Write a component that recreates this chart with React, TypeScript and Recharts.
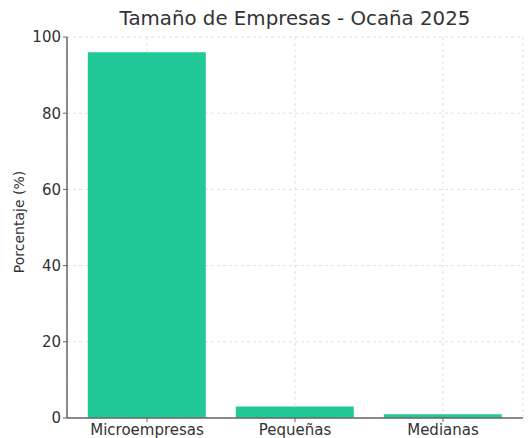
import React from 'react';
import { BarChart, Bar, XAxis, YAxis, CartesianGrid } from 'recharts';

const categories = ['Microempresas', 'Pequeñas', 'Medianas'];
const percentages = [96, 3, 1];
const yTicks = [0, 20, 40, 60, 80, 100];

const data = categories.map((name, i) => ({ name, value: percentages[i] }));

const FONT = '"DejaVu Sans", sans-serif';
const BAR_COLOR = '#20c997';

const YLabel = () => (
  <text
    x={19}
    y={222}
    transform="rotate(-90, 19, 222)"
    textAnchor="middle"
    dominantBaseline="central"
    fontFamily={FONT}
    fontSize={14}
    fill="#333"
  >
    Porcentaje (%)
  </text>
);

const App: React.FC = () => {
  return (
    <div style={{ position: 'absolute', left: 0, top: 0, width: 529, height: 438, background: '#fff', fontFamily: FONT }}>
      <div
        style={{
          position: 'absolute',
          left: 67,
          width: 456,
          top: 7,
          textAlign: 'center',
          fontSize: 19.8,
          color: '#333',
          lineHeight: '24px',
        }}
      >
        Tamaño de Empresas - Ocaña 2025
      </div>
      <BarChart
        width={529}
        height={438}
        data={data}
        margin={{ top: 37, right: 6, left: 0, bottom: 0 }}
        barCategoryGap="10%"
      >
        <XAxis
          dataKey="name"
          height={20}
          padding={{ left: 6, right: 6 }}
          tickSize={4}
          tickMargin={2}
          interval={0}
          axisLine={{ stroke: '#666', strokeWidth: 1.5 }}
          tickLine={{ stroke: '#666' }}
          tick={{ fill: '#333', fontSize: 15, fontFamily: FONT }}
        />
        <YAxis
          width={67}
          domain={[0, 100]}
          ticks={yTicks}
          tickSize={4}
          tickMargin={2}
          axisLine={{ stroke: '#666', strokeWidth: 1.5 }}
          tickLine={{ stroke: '#666' }}
          tick={{ fill: '#333', fontSize: 15, fontFamily: FONT }}
          label={<YLabel />}
        />
        <Bar dataKey="value" fill={BAR_COLOR} isAnimationActive={false} />
        <CartesianGrid stroke="#c4c4c4" strokeOpacity={0.55} strokeDasharray="3 3" />
      </BarChart>
    </div>
  );
};

export default App;
